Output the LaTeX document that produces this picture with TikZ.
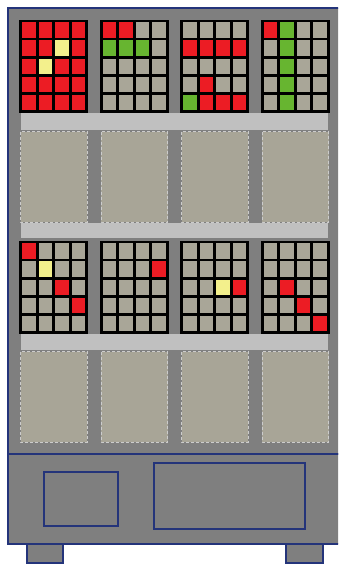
\documentclass[tikz,border=0pt]{standalone}
\definecolor{cabgray}{HTML}{7F7F7F}
\definecolor{shelfgray}{HTML}{C0C0C0}
\definecolor{panelgray}{HTML}{A8A597}
\definecolor{navy}{HTML}{24347A}
% lamp colours, one letter each for the cell lists
\definecolor{R}{HTML}{EC1C24}
\definecolor{G}{HTML}{67B530}
\definecolor{Y}{HTML}{F3F08C}
\definecolor{N}{HTML}{A9A698}

% one lamp grid: 4 columns x 5 rows, cells listed row by row
\newcommand{\lampgrid}[3]{%
  \foreach \c [count=\i from 0] in {#3} {
    \pgfmathtruncatemacro{\col}{mod(\i,4)}
    \pgfmathtruncatemacro{\row}{int(\i/4)}
    \fill[\c] ({#1+\col*16.5},{#2+\row*18.1}) rectangle ++(16.5,18.1);
  }
  \foreach \col in {0,...,3}
    \foreach \row in {0,...,4}
      \draw[cell] ({#1+\col*16.5},{#2+\row*18.1}) rectangle ++(16.5,18.1);
}

\begin{document}
\begin{tikzpicture}[
        x=1pt, y=-1pt,
        cabinet/.style = {fill=cabgray, draw=navy, line width=1.2pt},
        cell/.style = {draw=black, line width=2.6pt},
        shelf/.style = {fill=shelfgray},
        panel/.style = {fill=panelgray, draw=white!80!black, dash pattern=on 3pt off 2pt, line width=0.8pt},
        hatch/.style = {draw=navy, line width=1.2pt}
    ]
    \useasboundingbox (0,0) rectangle (338,565);
    \clip (0,0) rectangle (338,565);

    % ================= FEET AND BODY =================
    \draw[cabinet] (27,540) rectangle (63,563);
    \draw[cabinet] (286,540) rectangle (323,563);
    \draw[cabinet] (8,8) rectangle (342,454);
    \draw[cabinet] (8,454) rectangle (342,544);

    % ================= BASE =================
    \draw[hatch] (44,472) rectangle (118,526);
    \draw[hatch] (154,463) rectangle (305,529);

    % ================= SHELVES =================
    \fill[shelf] (21,113) rectangle (328,130);
    \fill[shelf] (21,223) rectangle (328,238);
    \fill[shelf] (21,334) rectangle (328,350);

    % ================= PANELS =================
    \foreach \x in {20.7,101.2,181.7,262.2} {
      \draw[panel] (\x,131.5) rectangle ++(66.5,90.5);
      \draw[panel] (\x,351.5) rectangle ++(66.5,90.5);
    }

    % ================= TOP ROW OF GRIDS =================
    \lampgrid{20.7}{21}{R,R,R,R,R,R,Y,R,R,Y,R,R,R,R,R,R,R,R,R,R}
    \lampgrid{101.2}{21}{R,R,N,N,G,G,G,N,N,N,N,N,N,N,N,N,N,N,N,N}
    \lampgrid{181.7}{21}{N,N,N,N,R,R,R,R,N,N,N,N,N,R,N,N,G,R,R,R}
    \lampgrid{262.2}{21}{R,G,N,N,N,G,N,N,N,G,N,N,N,G,N,N,N,G,N,N}

    % ================= BOTTOM ROW OF GRIDS =================
    \lampgrid{20.7}{242}{R,N,N,N,N,Y,N,N,N,N,R,N,N,N,N,R,N,N,N,N}
    \lampgrid{101.2}{242}{N,N,N,N,N,N,N,R,N,N,N,N,N,N,N,N,N,N,N,N}
    \lampgrid{181.7}{242}{N,N,N,N,N,N,N,N,N,N,Y,R,N,N,N,N,N,N,N,N}
    \lampgrid{262.2}{242}{N,N,N,N,N,N,N,N,N,R,N,N,N,N,R,N,N,N,N,R}

\end{tikzpicture}
\end{document}
